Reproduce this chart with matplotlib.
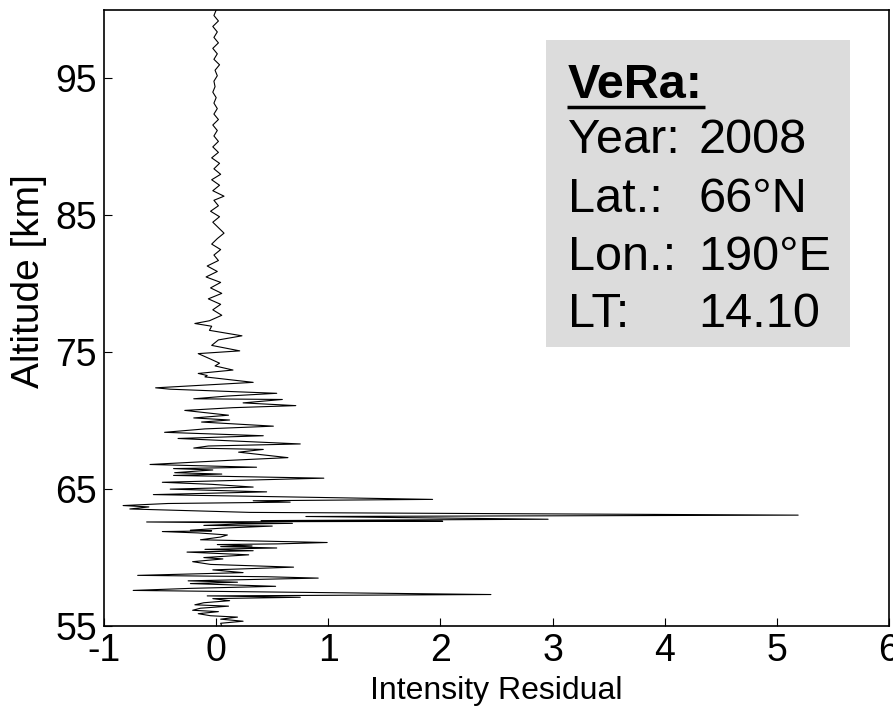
import numpy as np
import matplotlib
matplotlib.use('Agg')
import matplotlib.pyplot as plt

plt.rcParams['font.family'] = ['Liberation Sans', 'DejaVu Sans']

# residual profile, top of the atmosphere first
altitude = [
    100.0, 99.6, 99.2, 98.8, 98.4, 98.0, 97.6, 97.2, 96.8, 96.4,
    96.0, 95.6, 95.2, 94.8, 94.4, 94.0, 93.6, 93.2, 92.8, 92.4,
    92.0, 91.6, 91.2, 90.8, 90.4, 90.0, 89.6, 89.2, 88.8, 88.4,
    88.0, 87.6, 87.2, 86.8, 86.4, 86.1, 85.7, 85.3, 84.9, 84.5,
    84.1, 83.7, 83.3, 82.9, 82.5, 82.1, 81.7, 81.3, 80.9, 80.5,
    80.1, 79.7, 79.3, 78.9, 78.5, 78.1, 77.7, 77.3,
    77.1, 76.9, 76.6, 76.2, 75.9, 75.5, 75.1, 74.9, 74.5, 74.2,
    74.0, 73.7, 73.45, 73.3, 73.2, 72.8, 72.4, 72.3, 72.0, 71.8,
    71.6, 71.55, 71.3, 71.1, 70.95, 70.75, 70.4, 70.2, 70.05, 69.9,
    69.6, 69.4, 69.15, 68.9, 68.7, 68.3, 68.15, 68.0, 67.9, 67.7,
    67.3, 67.1, 66.8, 66.6, 66.5, 66.4, 66.2, 66.1, 66.0, 65.8,
    65.5, 65.35, 65.15, 65.0, 64.8, 64.6, 64.25, 64.15, 64.05, 63.95,
    63.8, 63.7, 63.55, 63.3, 63.1, 63.0, 62.8, 62.7, 62.65, 62.6,
    62.5, 62.45, 62.35, 62.3, 62.15, 62.0, 61.95, 61.9, 61.8, 61.65,
    61.5, 61.3, 61.1, 61.0, 60.95, 60.85, 60.8, 60.7, 60.6, 60.5,
    60.4, 60.2, 60.0, 59.9, 59.7, 59.5, 59.3, 59.1, 58.9, 58.7,
    58.6, 58.5, 58.3, 58.2, 58.1, 57.9, 57.75, 57.6, 57.5, 57.3,
    57.2, 57.1, 57.0, 56.85, 56.7, 56.55, 56.45, 56.3, 56.15, 56.05,
    55.9, 55.75, 55.65, 55.5, 55.35, 55.2, 55.0,
]
residual = [
    0.00, -0.02, 0.02, -0.03, 0.01, -0.02, 0.02, -0.03, 0.01, -0.02,
    0.03, -0.01, 0.01, -0.02, -0.01, -0.03, 0.00, -0.02, 0.01, -0.02,
    0.02, -0.03, 0.01, -0.02, 0.02, -0.03, 0.02, -0.04, 0.03, -0.02,
    0.04, -0.04, 0.03, -0.03, 0.07, -0.02, 0.02, -0.05, 0.03, -0.03,
    0.02, 0.07, 0.01, -0.04, 0.04, -0.02, 0.02, -0.08, 0.01, -0.09,
    0.04, -0.05, 0.05, -0.07, 0.04, -0.03, 0.05, -0.06,
    -0.19, -0.04, -0.06, 0.23, 0.02, -0.04, 0.21, -0.16, -0.05, 0.03,
    -0.01, 0.15, -0.16, -0.08, -0.10, 0.33, -0.54, -0.41, 0.54, 0.10,
    -0.20, 0.59, 0.24, 0.71, 0.15, -0.28, 0.11, -0.20, 0.12, -0.13,
    0.51, -0.10, -0.46, 0.42, -0.34, 0.75, -0.07, -0.20, 0.42, 0.20,
    0.64, 0.11, -0.59, 0.36, -0.38, -0.03, -0.37, 0.05, -0.38, 0.96,
    -0.48, -0.04, 0.33, -0.41, 0.45, -0.56, 1.93, 0.33, 0.66, -0.43,
    -0.83, -0.60, -0.77, 0.30, 5.19, 0.80, 2.96, 0.40, 2.02, -0.62,
    0.68, 0.20, -0.11, 0.50, 0.05, -0.23, -0.04, -0.48, -0.16, 0.10,
    0.04, -0.14, 0.99, 0.55, 0.01, 0.32, 0.04, 0.54, -0.10, 0.33,
    -0.26, 0.29, -0.11, 0.06, -0.21, -0.05, 0.69, -0.03, 0.24, -0.70,
    0.45, 0.91, -0.25, 0.19, -0.23, 0.53, -0.23, -0.74, 0.33, 2.45,
    -0.08, 0.75, -0.03, 0.12, -0.11, -0.19, 0.11, -0.14, -0.21, 0.02,
    -0.16, -0.05, 0.19, 0.04, 0.24, 0.04, 0.05,
]

xticks = [-1, 0, 1, 2, 3, 4, 5, 6]
yticks = [55, 65, 75, 85, 95]

info_keys = ['Year:', 'Lat.:', 'Lon.:', 'LT:']
info_vals = ['2008', '66°N', '190°E', '14.10']

fig = plt.figure(figsize=(8.93, 7.06), dpi=100)
ax = fig.add_axes([0.1165, 0.1133, 0.879, 0.8725])

ax.plot(residual, altitude, color='k', linewidth=0.8)

ax.set_xlim(-1, 6)
ax.set_ylim(55, 100)
ax.set_xticks(xticks)
ax.set_yticks(yticks)
ax.set_xticklabels([str(t) for t in xticks])
ax.tick_params(direction='in', length=6, width=0.8, labelsize=27)
ax.tick_params(axis='x', pad=5)
ax.tick_params(axis='y', pad=5)
for s in ax.spines.values():
    s.set_linewidth(1.2)

ax.set_xlabel('Intensity Residual', fontsize=23, va='baseline')
ax.xaxis.set_label_coords(0.5, -0.119)
ax.set_ylabel('Altitude [km]', fontsize=28, va='center')
ax.yaxis.set_label_coords(-0.095, 0.56)

# info box in the upper right
box = plt.Rectangle((0.563, 0.453), 0.387, 0.498, transform=ax.transAxes,
                    facecolor='#dcdcdc', edgecolor='none', zorder=3)
ax.add_patch(box)
ax.text(0.591, 0.857, 'VeRa:', transform=ax.transAxes, fontsize=35,
        fontweight='bold', va='baseline', ha='left', zorder=4)
ax.plot([0.590, 0.766], [0.842, 0.842], transform=ax.transAxes, color='k',
        linewidth=2.5, solid_capstyle='butt', zorder=4)
rows_y = [0.768, 0.672, 0.578, 0.485]
for key, val, yy in zip(info_keys, info_vals, rows_y):
    ax.text(0.591, yy, key, transform=ax.transAxes, fontsize=35,
            va='baseline', ha='left', zorder=4)
    ax.text(0.757, yy, val, transform=ax.transAxes, fontsize=35,
            va='baseline', ha='left', zorder=4)

plt.savefig('out.png', dpi=100)
